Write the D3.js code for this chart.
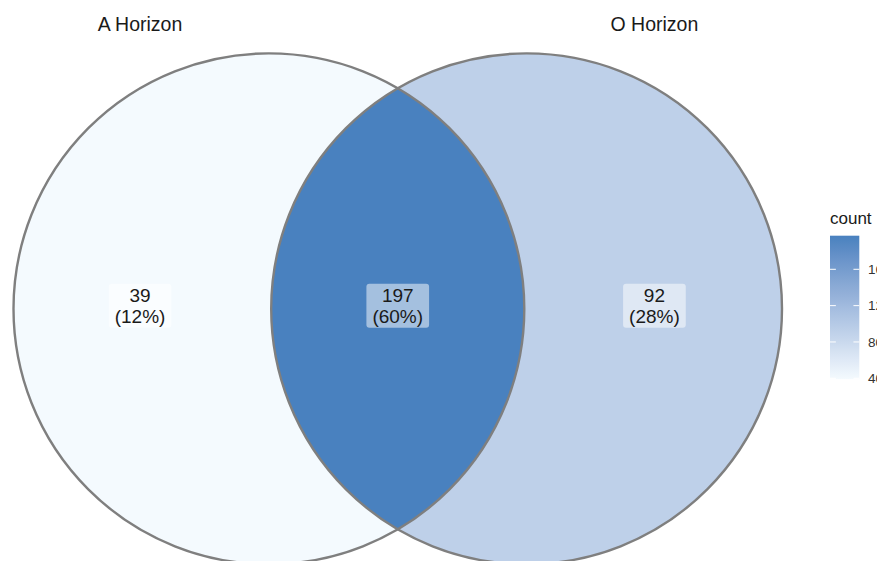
<!DOCTYPE html>
<html>
<head>
<meta charset="utf-8">
<script src="https://cdn.jsdelivr.net/npm/d3@7/dist/d3.min.js"></script>
<style>
  html, body { margin: 0; padding: 0; background: #fff; }
  svg { display: block; font-family: "Liberation Sans", Arial, Helvetica, sans-serif; }
</style>
</head>
<body>
<svg id="chart" width="877" height="561"></svg>
<script>
// ---- data ----
const setNames = ["A Horizon", "O Horizon"];
const regionNames = ["A only", "A and O", "O only"];
const regionCounts = [39, 197, 92];
const legendTicks = [40, 80, 120, 160];
const legendTitle = "count";

// ---- geometry (venn units: radius = 1) ----
const radius = 1;
const centerDist = 1.009;
const centers = [-centerDist / 2, centerDist / 2];
const labelX = [-1.009, 0, 1.005];
const labelY = 0.01;
const titleY = 1.089;

(function () {
const svg = d3.select("#chart");

const unit = 255.4;
const cxPix = 397.75, cyPix = 308.8;
const x = d3.scaleLinear().domain([-1, 1]).range([cxPix - unit, cxPix + unit]);
const y = d3.scaleLinear().domain([-1, 1]).range([cyPix + unit, cyPix - unit]);
const rPix = x(radius) - x(0);

const lowCol = "#F4FAFE", highCol = "#4981BF";
const color = d3.scaleLinear()
  .domain(d3.extent(regionCounts))
  .range([lowCol, highCol])
  .interpolate(d3.interpolateLab);

const total = d3.sum(regionCounts);

const g = svg.append("g");
g.append("circle").attr("cx", x(centers[0])).attr("cy", y(0)).attr("r", rPix)
  .attr("fill", color(regionCounts[0]));
g.append("circle").attr("cx", x(centers[1])).attr("cy", y(0)).attr("r", rPix)
  .attr("fill", color(regionCounts[2]));

// lens (intersection)
const half = centerDist / 2;
const hChord = Math.sqrt(radius * radius - half * half);
const pTop = [x(0), y(hChord)], pBot = [x(0), y(-hChord)];
const p = d3.path();
p.moveTo(pTop[0], pTop[1]);
{
  const cx = x(centers[1]), cy = y(0);
  const a0 = Math.atan2(pTop[1] - cy, pTop[0] - cx);
  const a1 = Math.atan2(pBot[1] - cy, pBot[0] - cx);
  p.arc(cx, cy, rPix, a0, a1, true);
}
{
  const cx = x(centers[0]), cy = y(0);
  const a0 = Math.atan2(pBot[1] - cy, pBot[0] - cx);
  const a1 = Math.atan2(pTop[1] - cy, pTop[0] - cx);
  p.arc(cx, cy, rPix, a0, a1, true);
}
p.closePath();
g.append("path").attr("d", p.toString()).attr("fill", color(regionCounts[1]));

centers.forEach(c => {
  g.append("circle").attr("cx", x(c)).attr("cy", y(0)).attr("r", rPix)
    .attr("fill", "none").attr("stroke", "#7F7F7F").attr("stroke-width", 2.4);
});

setNames.forEach((n, i) => {
  svg.append("text")
    .attr("x", x(labelX[i === 0 ? 0 : 2]))
    .attr("y", y(titleY))
    .attr("text-anchor", "middle")
    .attr("font-size", 19.5)
    .attr("fill", "#1a1a1a")
    .text(n);
});

regionCounts.forEach((v, i) => {
  const lg = svg.append("g");
  const cx = x(labelX[i]), cy = y(labelY);
  const t = lg.append("text")
    .attr("text-anchor", "middle")
    .attr("font-size", 19)
    .attr("fill", "#1a1a1a");
  t.append("tspan").attr("x", cx).attr("y", cy - 4.5).text(v);
  t.append("tspan").attr("x", cx).attr("y", cy + 16.5)
    .text("(" + Math.round(v / total * 100) + "%)");
  const bb = t.node().getBBox();
  lg.insert("rect", "text")
    .attr("x", bb.x - 6).attr("y", bb.y - 1)
    .attr("width", bb.width + 12).attr("height", bb.height + 2)
    .attr("rx", 3).attr("ry", 3)
    .attr("fill", "white").attr("fill-opacity", 0.5);
});

// legend
const legX = 830, legW = 29.3;
const ly = d3.scaleLinear().domain(d3.extent(regionCounts)).range([379.2, 235.7]);
const defs = svg.append("defs");
const grad = defs.append("linearGradient").attr("id", "lg")
  .attr("x1", 0).attr("y1", 1).attr("x2", 0).attr("y2", 0);
d3.range(0, 1.0001, 0.05).forEach(s => {
  grad.append("stop").attr("offset", s)
    .attr("stop-color", color(ly.domain()[0] + s * (ly.domain()[1] - ly.domain()[0])));
});
svg.append("rect").attr("x", legX).attr("y", ly.range()[1])
  .attr("width", legW).attr("height", ly.range()[0] - ly.range()[1])
  .attr("fill", "url(#lg)");
legendTicks.forEach(tk => {
  const yy = ly(tk);
  svg.append("line").attr("x1", legX).attr("x2", legX + legW / 5)
    .attr("y1", yy).attr("y2", yy).attr("stroke", "white").attr("stroke-width", 1);
  svg.append("line").attr("x1", legX + legW - legW / 5).attr("x2", legX + legW)
    .attr("y1", yy).attr("y2", yy).attr("stroke", "white").attr("stroke-width", 1);
  svg.append("text").attr("x", 868).attr("y", yy).attr("dy", "0.36em")
    .attr("font-size", 13.5).attr("fill", "#333").text(tk);
});
svg.append("text").attr("x", legX).attr("y", 224)
  .attr("font-size", 17).attr("fill", "#1a1a1a").text(legendTitle);
})();
</script>
</body>
</html>
